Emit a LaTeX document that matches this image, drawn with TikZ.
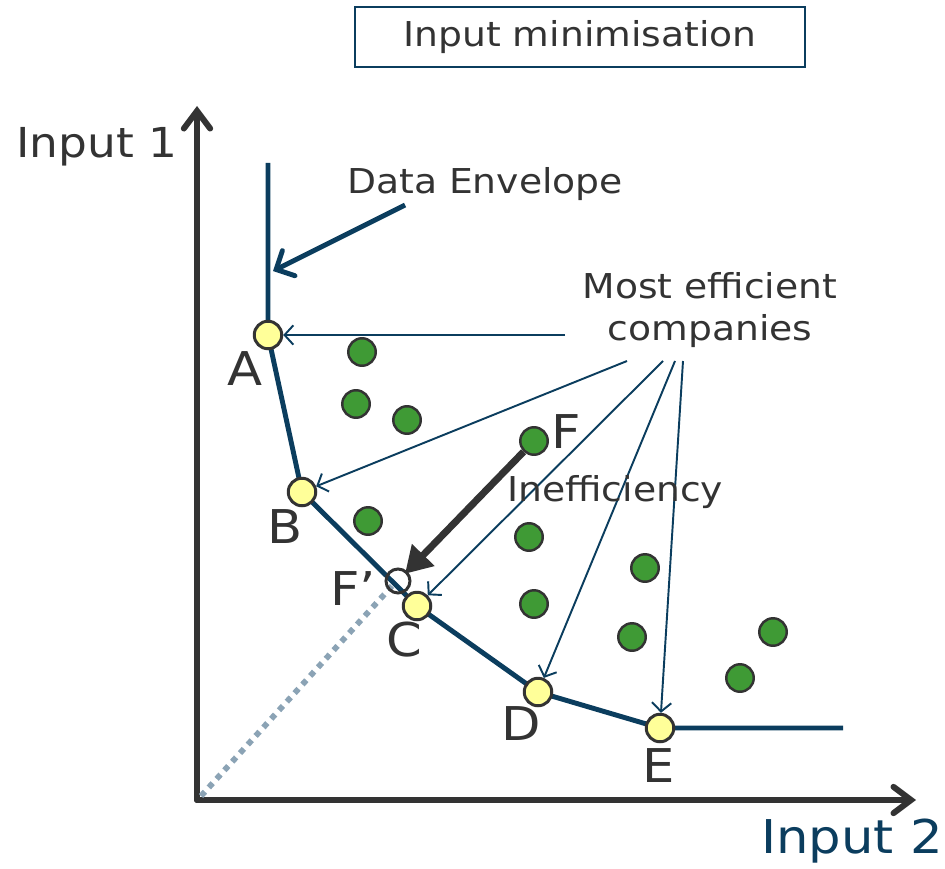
\documentclass[tikz,border=0pt]{standalone}
\usepackage{fontspec}
\setmainfont{DejaVu Sans}[FakeStretch=1.1]
\usetikzlibrary{arrows.meta}
\definecolor{navy}{HTML}{0B3D5E}
\definecolor{ink}{HTML}{333333}
\definecolor{firm}{HTML}{3F9A35}
\definecolor{best}{HTML}{FFFF99}
\definecolor{ray}{HTML}{8BA3B5}
\tikzset{
  axis/.style={draw=ink, line width=3.4pt, line cap=round, -{Straight Barb[length=10pt,width=15pt,line cap=round]}},
  envelope/.style={draw=navy, line width=2.8pt},
  pointer/.style={draw=navy, line width=1.1pt, -{Straight Barb[length=5pt,width=11pt]}},
  bigpointer/.style={draw=navy, line width=2.8pt, -{Straight Barb[length=8pt,width=16pt,line cap=round]}},
  gap/.style={draw=ink, line width=4pt, -{Triangle[length=15pt,width=17pt]}, shorten >=-2pt},
  effpt/.style={circle, draw=ink, fill=best, line width=1.7pt, minimum size=0.55cm, inner sep=0pt},
  firmpt/.style={circle, draw=ink, fill=firm, line width=1.4pt, minimum size=0.55cm, inner sep=0pt},
  projpt/.style={circle, draw=ink, line width=1.7pt, minimum size=0.48cm, inner sep=0pt},
  lbl/.style={text=ink, font=\fontsize{26.5}{30}\selectfont, inner sep=0pt},
  note/.style={text=ink, font=\fontsize{19.5}{24}\selectfont, inner sep=0pt, align=center},
}
\begin{document}
\begin{tikzpicture}[x=0.02cm,y=-0.02cm]
\useasboundingbox (0,0) rectangle (945,868);

% title box
\node[draw=navy, line width=0.9pt, minimum width=9cm, minimum height=1.2cm, text=ink,
      font=\fontsize{19.5}{24}\selectfont] (title) at (580,37) {Input minimisation};

% axes
\coordinate (O) at (197,800);
\coordinate (ytop) at (197,106);
\coordinate (xend) at (916,800);
\draw[axis] (O) -- (ytop);
\draw[axis] (O) -- (xend);
\node[lbl, font=\fontsize{23.5}{28}\selectfont] (in1) at (97,147) {Input 1};
\node[lbl, text=navy] (in2) at (852,841) {Input 2};

% named positions
\coordinate (envtop) at (268,163);
\coordinate (envend) at (843,728);
\coordinate (rayo) at (201,796);

% dotted ray from the origin to the projected point
\draw[ray, line width=3.3pt, dash pattern=on 3.3pt off 3.3pt] (rayo) -- (392,586);

% efficient frontier
\draw[envelope] (envtop) -- (268,335) -- (302,492) -- (417,606) -- (538,692) -- (660,728) -- (envend);

% inefficient companies
\node[firmpt] (g1) at (362,352) {};
\node[firmpt] (g2) at (356,404) {};
\node[firmpt] (g3) at (407,420) {};
\node[firmpt] (g4) at (368,521) {};
\node[firmpt] (g5) at (529,537) {};
\node[firmpt] (g6) at (645,568) {};
\node[firmpt] (g7) at (534,604) {};
\node[firmpt] (g8) at (632,637) {};
\node[firmpt] (g9) at (773,632) {};
\node[firmpt] (g10) at (740,678) {};
\node[firmpt] (F) at (534,441) {};

% projected point on the frontier
\node[projpt] (Fp) at (398,581) {};

% efficient companies
\node[effpt] (A) at (268,335) {};
\node[effpt] (B) at (302,492) {};
\node[effpt] (C) at (417,606) {};
\node[effpt] (D) at (538,692) {};
\node[effpt] (E) at (660,728) {};

% point labels
\node[lbl] (lA) at (245,369) {A};
\node[lbl] (lB) at (285,527) {B};
\node[lbl] (lC) at (404,640) {C};
\node[lbl] (lD) at (521,724) {D};
\node[lbl] (lE) at (659,766) {E};
\node[lbl] (lF) at (566,432) {F};
\node[lbl] (lFp) at (353,589) {F’};

% data envelope callout
\node[note] (envnote) at (485,184) {Data Envelope};
\coordinate (envfrom) at (405,205);
\coordinate (envhit) at (273,271);
\draw[bigpointer] (envfrom) -- (envhit);

% most efficient companies callout
\node[note] (effnote) at (710,310) {Most efficient\\companies};
\coordinate (pa) at (565,335);
\coordinate (pb) at (627,361);
\coordinate (pc) at (663,361);
\coordinate (pd) at (675,361);
\coordinate (pe) at (683,361);
\draw[pointer] (pa) -- (A);
\draw[pointer] (pb) -- (B);
\draw[pointer] (pc) -- (C);
\draw[pointer] (pd) -- (D);
\draw[pointer] (pe) -- (E);

% inefficiency
\node[note, anchor=west] (ineff) at (507,492) {Inefficiency};
\draw[gap] (F) -- (Fp);
\end{tikzpicture}
\end{document}
